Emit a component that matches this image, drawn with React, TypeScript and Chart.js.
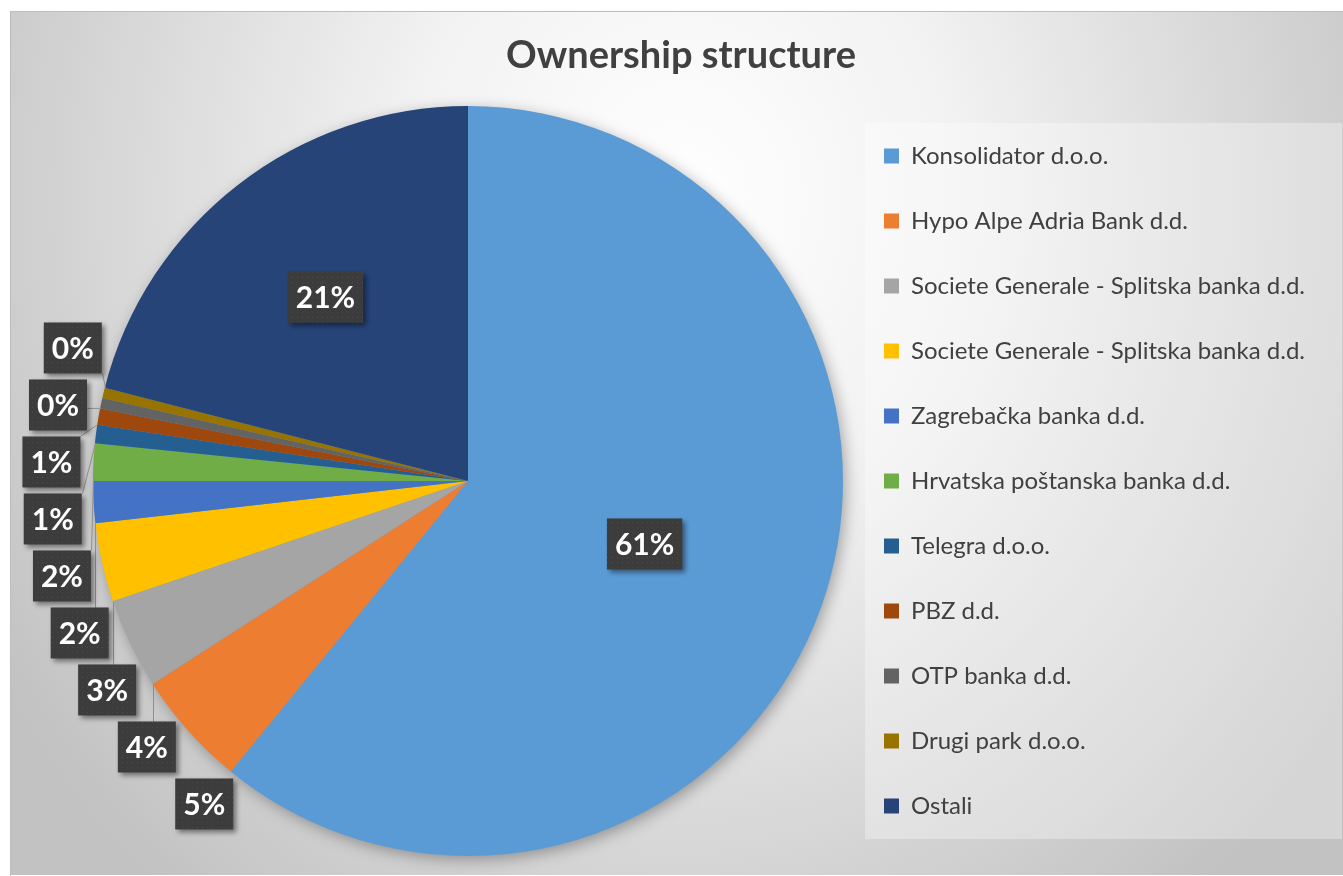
import React, { useEffect, useRef } from "react";
import { Chart, registerables } from "chart.js";

Chart.register(...registerables);

const chartTitle = "Ownership structure";
const categories = [
  "Konsolidator d.o.o.",
  "Hypo Alpe Adria Bank d.d.",
  "Societe Generale - Splitska banka d.d.",
  "Societe Generale - Splitska banka d.d.",
  "Zagrebačka banka d.d.",
  "Hrvatska poštanska banka d.d.",
  "Telegra d.o.o.",
  "PBZ d.d.",
  "OTP banka d.d.",
  "Drugi park d.o.o.",
  "Ostali",
];
const shares = [60.9, 5.0, 3.9, 3.4, 1.8, 1.6, 0.8, 0.7, 0.45, 0.45, 21.0];
const colors = [
  "#5B9BD5",
  "#ED7D31",
  "#A5A5A5",
  "#FFC000",
  "#4472C4",
  "#70AD47",
  "#255E91",
  "#9E480E",
  "#636363",
  "#997300",
  "#264478",
];

const FONT = "Lato, 'Open Sans', sans-serif";

let dotPattern: CanvasPattern | null = null;
function getPattern(ctx: CanvasRenderingContext2D) {
  if (dotPattern) return dotPattern;
  const c = document.createElement("canvas");
  c.width = 5;
  c.height = 5;
  const p = c.getContext("2d")!;
  p.fillStyle = "#3c3c3c";
  p.fillRect(0, 0, 5, 5);
  p.fillStyle = "#4a4a4a";
  p.fillRect(2, 2, 1, 1);
  dotPattern = ctx.createPattern(c, "repeat");
  return dotPattern;
}

const backgroundPlugin = {
  id: "bgFrame",
  beforeDraw(chart: any) {
    const { ctx, width, height } = chart;
    ctx.save();
    ctx.fillStyle = "#ffffff";
    ctx.fillRect(0, 0, width, height);
    const fx = 10;
    const fy = 11;
    ctx.save();
    ctx.beginPath();
    ctx.rect(fx, fy, width - fx, height - fy);
    ctx.clip();
    ctx.translate(680, 200);
    ctx.scale(1, 900 / 800);
    const g = ctx.createRadialGradient(0, 0, 0, 0, 0, 800);
    g.addColorStop(0, "#ffffff");
    g.addColorStop(0.35, "#f2f2f2");
    g.addColorStop(1, "#c2c2c2");
    ctx.fillStyle = g;
    ctx.fillRect(-800, -400, 1700, 1000);
    ctx.restore();

    ctx.strokeStyle = "#bdbdbd";
    ctx.lineWidth = 1;
    ctx.beginPath();
    ctx.moveTo(fx + 0.5, height);
    ctx.lineTo(fx + 0.5, fy + 0.5);
    ctx.lineTo(width, fy + 0.5);
    ctx.stroke();

    const lg = chart.legend;
    if (lg) {
      const px = Math.round(lg.left + 22);
      const py = lg.top + 37;
      ctx.fillStyle = "rgba(255,255,255,0.32)";
      ctx.fillRect(px, py, width - 1 - px, lg.bottom - 37 - py);
    }

    ctx.fillStyle = "#404040";
    ctx.font = `bold 38px ${FONT}`;
    ctx.textAlign = "center";
    ctx.textBaseline = "middle";
    ctx.fillText(chartTitle, 681, 56);
    ctx.restore();
  },
};

const pieShadowPlugin = {
  id: "pieShadow",
  beforeDatasetsDraw(chart: any) {
    const arcs = chart.getDatasetMeta(0).data as any[];
    if (!arcs.length) return;
    const { x, y, outerRadius } = arcs[0];
    const ctx = chart.ctx;
    ctx.save();
    ctx.shadowColor = "rgba(0,0,0,0.35)";
    ctx.shadowBlur = 16;
    ctx.shadowOffsetX = 3;
    ctx.shadowOffsetY = 4;
    ctx.fillStyle = colors[0];
    ctx.beginPath();
    ctx.arc(x, y, outerRadius - 1, 0, Math.PI * 2);
    ctx.fill();
    ctx.restore();
  },
};

type Lbl = {
  text: string;
  w: number;
  x: number;
  y: number;
  start: number;
  end: number;
  inside: boolean;
  side: number;
  natY: number;
};

const labelPlugin = {
  id: "pctLabels",
  afterDatasetsDraw(chart: any) {
    const ctx: CanvasRenderingContext2D = chart.ctx;
    const arcs = chart.getDatasetMeta(0).data as any[];
    if (!arcs.length) return;
    const data = chart.data.datasets[0].data as number[];
    const total = data.reduce((a, b) => a + b, 0);
    const cx = arcs[0].x;
    const cy = arcs[0].y;
    const r = arcs[0].outerRadius;
    ctx.save();
    ctx.font = `bold 30px ${FONT}`;
    const boxH = 51;
    const padX = 8;
    const gap = 6;
    const labels: Lbl[] = arcs.map((a, i) => {
      const pct = (data[i] / total) * 100;
      const text = Math.round(pct) + "%";
      const w = ctx.measureText(text).width + 2 * padX;
      const span = a.endAngle - a.startAngle;
      const mid = (a.startAngle + a.endAngle) / 2;
      const inside = pct >= 10;
      let x = 0;
      let y = 0;
      if (inside) {
        let d: number;
        if (span >= Math.PI) d = r / 2;
        else {
          const s = Math.sin(span / 2);
          d = r - (r * s) / (1 + s);
        }
        x = cx + d * Math.cos(mid);
        y = cy + d * Math.sin(mid);
      }
      return {
        text,
        w,
        x,
        y,
        start: a.startAngle,
        end: a.endAngle,
        inside,
        side: Math.cos(mid) < 0 ? -1 : 1,
        natY: 0,
      };
    });

    const R = r + 42;
    for (const side of [-1, 1]) {
      const group = labels.filter((l) => !l.inside && l.side === side);
      if (!group.length) continue;
      group.forEach((l) => {
        l.natY = cy + R * Math.max(Math.sin(l.start), Math.sin(l.end));
      });
      group.sort((a, b) => b.natY - a.natY);
      const y0 = group[0].natY;
      group.forEach((l, k) => {
        l.y = y0 - k * (boxH + gap);
        const dy = l.y - cy;
        const dx = Math.sqrt(Math.max(R * R - dy * dy, 0));
        l.x = cx + side * dx;
      });
    }

    const rects = labels.map((l) => {
      let bx = l.x - l.w / 2;
      if (bx < 12) bx = 12;
      return { bx, by: l.y - boxH / 2, w: l.w, h: boxH };
    });

    // leader lines
    ctx.strokeStyle = "#8f8f8f";
    ctx.lineWidth = 1;
    labels.forEach((l, i) => {
      if (l.inside) return;
      const rc = rects[i];
      let best = { d: Infinity, px: 0, py: 0, qx: 0, qy: 0 };
      const steps = 40;
      for (let k = 0; k <= steps; k++) {
        const ang = l.start + ((l.end - l.start) * k) / steps;
        const px = cx + r * Math.cos(ang);
        const py = cy + r * Math.sin(ang);
        const qx = Math.min(Math.max(px, rc.bx), rc.bx + rc.w);
        const qy = Math.min(Math.max(py, rc.by), rc.by + rc.h);
        const d = Math.hypot(px - qx, py - qy);
        if (d < best.d) best = { d, px, py, qx, qy };
      }
      if (best.d > 8) {
        ctx.beginPath();
        ctx.moveTo(Math.round(best.px) + 0.5, best.py);
        ctx.lineTo(Math.round(best.qx) + 0.5, best.qy);
        ctx.stroke();
      }
    });

    // boxes
    const pat = getPattern(ctx);
    labels.forEach((l, i) => {
      const rc = rects[i];
      ctx.save();
      ctx.shadowColor = "rgba(0,0,0,0.45)";
      ctx.shadowBlur = 5;
      ctx.shadowOffsetX = 3;
      ctx.shadowOffsetY = 3;
      ctx.fillStyle = pat || "#3f3f3f";
      ctx.fillRect(rc.bx, rc.by, rc.w, rc.h);
      ctx.restore();
      ctx.fillStyle = "#ffffff";
      ctx.textAlign = "center";
      ctx.textBaseline = "middle";
      ctx.fillText(l.text, rc.bx + rc.w / 2, rc.by + rc.h / 2 + 1);
    });
    ctx.restore();
  },
};

export default function App() {
  const ref = useRef<HTMLCanvasElement>(null);
  useEffect(() => {
    const chart = new Chart(ref.current!, {
      type: "pie",
      data: {
        labels: categories,
        datasets: [
          {
            data: shares,
            backgroundColor: colors,
            borderWidth: 0,
            hoverOffset: 0,
          },
        ],
      },
      options: {
        animation: false,
        responsive: true,
        maintainAspectRatio: false,
        events: [],
        layout: { padding: { left: 93, right: 35, top: 86, bottom: 0 } },
        plugins: {
          title: { display: false },
          tooltip: { enabled: false },
          legend: {
            position: "right",
            maxWidth: 465,
            labels: {
              boxWidth: 15,
              boxHeight: 15,
              padding: 41,
              color: "#404040",
              font: { family: FONT, size: 24 },
            },
          },
        },
      } as any,
      plugins: [backgroundPlugin, pieShadowPlugin, labelPlugin],
    });
    return () => chart.destroy();
  }, []);
  return (
    <div
      style={{
        position: "fixed",
        left: 0,
        top: 0,
        width: 1343,
        height: 876,
        overflow: "hidden",
        background: "#fff",
      }}
    >
      <canvas ref={ref} />
    </div>
  );
}
